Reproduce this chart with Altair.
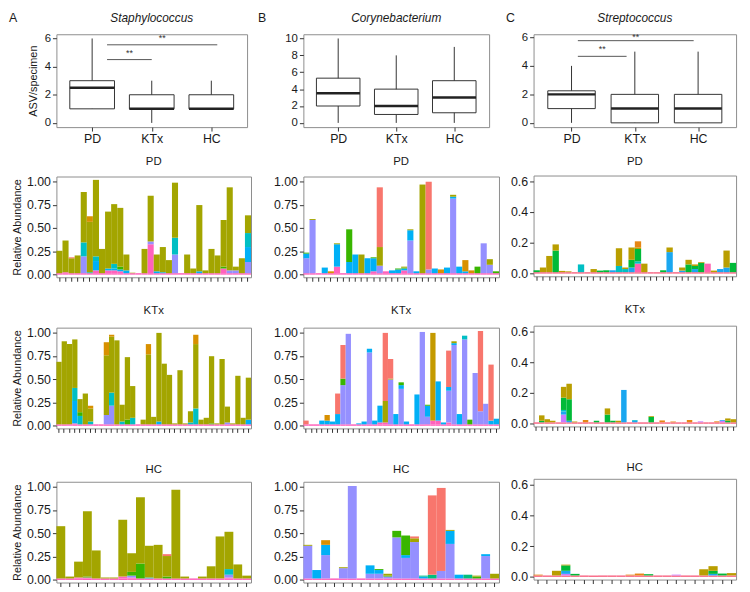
import altair as alt
import pandas as pd

FONT = "Liberation Sans"

# ---------------- colours of the ASVs (stack order: first = bottom) ----------------
ASV_KEYS = ["base", "cbase", "pnk", "cpk", "mag", "pur", "cpu", "blu", "cbl", "tea", "sea",
            "grn", "cgr", "oli", "col", "gol", "ora", "cor", "sal"]
ASV_COLORS = ["#FF62BC", "#F9708C", "#FF62BC", "#FF64B0", "#E76BF3", "#9590FF", "#C77CFF", "#00B0F6", "#1AA7F0",
              "#00BFC4", "#00BF7D", "#39B600", "#00BA38", "#A3A500", "#B99E00",
              "#C49A00", "#D89000", "#E68613", "#F8766D"]

GROUPS = ["PD", "KTx", "HC"]
GENERA = ["Staphylococcus", "Corynebacterium", "Streptococcus"]
LETTERS = ["A", "B", "C"]

# trace of rare ASVs present at the bottom of every specimen bar
AB_TRACE = 0.016
C_TRACE = 0.010

# ---------------- boxplot summaries (ASV/specimen) ----------------
A_q1 = [1, 1, 1];       A_med = [2.5, 1, 1];   A_q3 = [3, 2, 2];     A_lo = [1, 0, 1];  A_hi = [6, 3, 3]
B_q1 = [2, 1, 1.2];     B_med = [3.5, 2, 3];   B_q3 = [5.3, 4, 5];   B_lo = [0, 0, 0];  B_hi = [10, 8, 9]
C_q1 = [1, 0, 0];       C_med = [2, 1, 1];     C_q3 = [2.25, 2, 2];  C_lo = [0, 0, 0];  C_hi = [4, 5, 5]

# significance brackets: (x start, x end, y, label y)
A_sig = [(1.25, 2.0, 4.5, 4.95), (1.25, 3.1, 5.55, 6.0)]
B_sig = []
C_sig = [(1.1, 1.87, 4.67, 5.15), (1.1, 2.93, 5.77, 6.05)]

# ---------------- relative abundance per specimen (stacked segments) ----------------
A_PD = [
    [("oli", 0.24)], [("pnk", 0.01), ("oli", 0.34)], [("oli", 0.16), ("sal", 0.01)], [("oli", 0.19)],
    [("pur", 0.18), ("tea", 0.15), ("oli", 0.54)], [("tea", 0.01), ("oli", 0.54), ("ora", 0.06)],
    [("pnk", 0.03), ("blu", 0.10), ("tea", 0.05), ("oli", 0.82)], [("oli", 0.26)],
    [("pnk", 0.03), ("blu", 0.02), ("oli", 0.61)], [("pnk", 0.03), ("blu", 0.02), ("tea", 0.05), ("oli", 0.64)],
    [("pnk", 0.02), ("blu", 0.02), ("grn", 0.03), ("oli", 0.63)], [("blu", 0.03), ("oli", 0.17)],
    [("oli", 0.005)], [], [("oli", 0.26)], [("pnk", 0.31), ("pur", 0.03), ("oli", 0.49)],
    [("blu", 0.02), ("oli", 0.18)], [("blu", 0.01), ("oli", 0.27)], [("oli", 0.14)],
    [("pur", 0.20), ("tea", 0.18), ("oli", 0.59)], [], [("oli", 0.20)], [("oli", 0.05)],
    [("blu", 0.02), ("oli", 0.71)], [("oli", 0.03)], [("oli", 0.26)], [("oli", 0.19)],
    [("pnk", 0.05), ("grn", 0.02), ("oli", 0.50)], [("pur", 0.03), ("oli", 0.89)],
    [("pur", 0.03), ("oli", 0.04)], [("oli", 0.16)], [("pur", 0.12), ("blu", 0.16), ("tea", 0.15), ("oli", 0.19)],
]
A_KTx = [
    [("oli", 0.67)], [("oli", 0.89)], [("oli", 0.86)], [("pnk", 0.01), ("blu", 0.24), ("tea", 0.14), ("oli", 0.52)],
    [("tea", 0.09), ("grn", 0.04), ("oli", 0.14)], [("oli", 0.33)], [("tea", 0.03), ("oli", 0.14), ("ora", 0.03)],
    [], [], [("pur", 0.10), ("oli", 0.64), ("ora", 0.14)], [("pur", 0.20), ("tea", 0.14), ("oli", 0.60), ("ora", 0.02)],
    [("oli", 0.90)], [("tea", 0.03), ("oli", 0.18)], [("grn", 0.05), ("oli", 0.67)], [("tea", 0.07), ("oli", 0.34)],
    [], [("oli", 0.05)], [("oli", 0.75), ("ora", 0.11)], [("oli", 0.08)], [("blu", 0.03), ("oli", 0.95)],
    [("oli", 0.65)], [("oli", 0.53)], [("oli", 0.01)], [("oli", 0.58)], [("oli", 0.01)],
    [("tea", 0.02), ("oli", 0.12)], [("tea", 0.17), ("oli", 0.69), ("ora", 0.10)], [("oli", 0.05)],
    [("oli", 0.07)], [("grn", 0.01), ("oli", 0.72)], [("oli", 0.01)], [("oli", 0.70)],
    [("pur", 0.02), ("oli", 0.17)], [("oli", 0.01)], [("oli", 0.52)], [("oli", 0.07)], [("blu", 0.05), ("oli", 0.45)],
]
A_HC = [
    [("oli", 0.56)], [("oli", 0.02)], [("pnk", 0.01), ("oli", 0.17)], [("pnk", 0.01), ("grn", 0.01), ("oli", 0.70)],
    [("oli", 0.30)], [("oli", 0.01)], [("oli", 0.01)], [("pnk", 0.02), ("oli", 0.61)],
    [("pnk", 0.01), ("pur", 0.02), ("grn", 0.04), ("oli", 0.20)], [("grn", 0.16), ("oli", 0.71)],
    [("tea", 0.01), ("oli", 0.34)], [("oli", 0.36)], [("grn", 0.02), ("oli", 0.22), ("sal", 0.02)],
    [("oli", 0.95)], [("oli", 0.02)], [], [("oli", 0.02)], [("oli", 0.13)], [("oli", 0.45)],
    [("pnk", 0.01), ("pur", 0.03), ("tea", 0.06), ("oli", 0.40)], [("oli", 0.15)], [("oli", 0.03)],
]
B_PD = [
    [("pur", 0.16), ("blu", 0.05), ("grn", 0.01)], [("pur", 0.57), ("oli", 0.01)], [], [("blu", 0.06)],
    [("ora", 0.02)], [("pnk", 0.07), ("blu", 0.24), ("oli", 0.01)], [], [("blu", 0.12), ("grn", 0.35)],
    [("blu", 0.20)], [("oli", 0.20)], [("blu", 0.16)], [("pnk", 0.02), ("blu", 0.14), ("grn", 0.01)],
    [("pur", 0.08), ("oli", 0.20), ("sal", 0.64)], [("pnk", 0.02)], [("blu", 0.03)], [("blu", 0.04), ("grn", 0.01)],
    [("pnk", 0.03), ("blu", 0.02), ("grn", 0.01), ("oli", 0.01)], [("pur", 0.35), ("blu", 0.11), ("oli", 0.01)],
    [("blu", 0.02)], [("oli", 0.95)], [("pur", 0.04), ("sal", 0.94)], [("blu", 0.05)], [("ora", 0.04)],
    [("blu", 0.06)], [("pur", 0.80), ("blu", 0.02), ("oli", 0.02)], [("blu", 0.07)], [("blu", 0.02), ("ora", 0.12)],
    [("ora", 0.03)], [("grn", 0.07)], [("pur", 0.32)], [("pur", 0.09), ("oli", 0.06)], [("grn", 0.02)],
]
B_KTx = [
    [("sal", 0.04)], [], [], [("blu", 0.04)], [("blu", 0.04), ("ora", 0.06)], [("blu", 0.03)],
    [("blu", 0.11), ("sal", 0.22)], [("pur", 0.42), ("grn", 0.07), ("sal", 0.36)], [("pur", 0.97)], [],
    [("blu", 0.01)], [("blu", 0.03)], [("pur", 0.77), ("blu", 0.04)], [("blu", 0.04)], [("pnk", 0.02), ("blu", 0.18)],
    [("pnk", 0.02), ("oli", 0.23), ("sal", 0.73)], [("pur", 0.48), ("oli", 0.01), ("sal", 0.21)], [("blu", 0.11)],
    [("pur", 0.38), ("blu", 0.04), ("grn", 0.03)], [("blu", 0.03)], [], [("blu", 0.32)], [("pur", 0.99)],
    [("pur", 0.08), ("blu", 0.12), ("grn", 0.01)], [("pnk", 0.04), ("gol", 0.94)], [("pnk", 0.04), ("blu", 0.42)],
    [("blu", 0.02)], [("pnk", 0.02), ("pur", 0.34), ("blu", 0.04), ("sal", 0.39)],
    [("pur", 0.85), ("blu", 0.02), ("oli", 0.02)], [("blu", 0.11)], [("pur", 0.91), ("tea", 0.04)],
    [("grn", 0.05)], [("pur", 0.55)], [("pur", 0.14), ("sal", 0.86)], [("pur", 0.22)],
    [("blu", 0.04), ("sal", 0.60)], [("blu", 0.06)],
]
B_HC = [
    [("pur", 0.35), ("oli", 0.01)], [("blu", 0.09)], [("pur", 0.25), ("blu", 0.11), ("ora", 0.05)], [],
    [("pur", 0.11), ("oli", 0.01)], [("pur", 0.99)], [], [("pur", 0.05), ("blu", 0.09)],
    [("pur", 0.05), ("blu", 0.04), ("grn", 0.01)], [("pur", 0.02), ("grn", 0.01), ("oli", 0.02)],
    [("pur", 0.44), ("grn", 0.07)], [("pur", 0.22), ("blu", 0.03), ("grn", 0.21)],
    [("pur", 0.39), ("oli", 0.04), ("sal", 0.02)], [("blu", 0.02), ("sea", 0.01)], [("sea", 0.04), ("sal", 0.85)],
    [("pur", 0.08), ("sal", 0.89)], [("pur", 0.37), ("blu", 0.14), ("oli", 0.01)], [("blu", 0.04)],
    [("sea", 0.04)], [("grn", 0.02), ("oli", 0.01)], [("pur", 0.24), ("blu", 0.02)], [("oli", 0.05)],
]
C_PD = [
    [("cgr", 0.012)], [("col", 0.03)], [("col", 0.105)], [("cgr", 0.14), ("col", 0.04)], [("col", 0.008)],
    [("col", 0.005)], [], [("tea", 0.05)], [], [("col", 0.02)], [("cgr", 0.01)], [("cgr", 0.012)],
    [("cbl", 0.012)], [("tea", 0.04), ("col", 0.115)], [("tea", 0.02), ("col", 0.01)],
    [("cbl", 0.03), ("cgr", 0.05), ("col", 0.08)],
    [("cpk", 0.055), ("tea", 0.015), ("cgr", 0.08), ("col", 0.01), ("cor", 0.04)], [("col", 0.055)],
    [], [], [("cgr", 0.012)], [("cbl", 0.13), ("col", 0.03)], [], [("cbl", 0.01), ("col", 0.02)],
    [("cgr", 0.05), ("col", 0.03)], [("cbl", 0.02), ("cgr", 0.02), ("col", 0.01)], [("cgr", 0.06), ("col", 0.005)],
    [("cpk", 0.055)], [("col", 0.01)], [("cbl", 0.02)], [("cbl", 0.03), ("col", 0.11)], [("cgr", 0.06)],
]
C_KTx = [
    [], [("cgr", 0.01), ("col", 0.035)], [("col", 0.02)], [("col", 0.01)], [],
    [("cpu", 0.05), ("cbl", 0.02), ("tea", 0.01), ("cgr", 0.08), ("col", 0.07)],
    [("cbl", 0.01), ("cgr", 0.14), ("col", 0.10)], [("col", 0.005)], [], [("cor", 0.015)], [],
    [("cgr", 0.01)], [], [("cgr", 0.05), ("col", 0.04)], [("cgr", 0.01)], [("col", 0.01)], [("cbl", 0.21)],
    [], [("cbl", 0.01), ("tea", 0.005)], [], [], [("cgr", 0.035), ("col", 0.005)], [], [("cor", 0.012)], [],
    [("cor", 0.005)], [], [], [("cor", 0.015)], [], [("cpu", 0.006)], [], [], [("cor", 0.006)],
    [("cpu", 0.01), ("cbl", 0.005)], [("cgr", 0.01), ("col", 0.015)], [("col", 0.02)],
]
C_HC = [
    [("cor", 0.005)], [], [("col", 0.03)], [("cpu", 0.01), ("cbl", 0.02), ("cgr", 0.035), ("col", 0.005)],
    [("cgr", 0.01)], [], [], [], [], [], [("cor", 0.005)], [("cor", 0.012)], [("cgr", 0.008)], [], [],
    [("cpu", 0.005)], [], [], [("col", 0.04)], [("cbl", 0.01), ("cgr", 0.02), ("col", 0.03)],
    [("cgr", 0.012)], [("col", 0.015)],
]

COLOR_SCALE = alt.Scale(domain=ASV_KEYS, range=ASV_COLORS)
LABEL_COLOR = "#1a1a1a"


def bar_frame(bars, base_key, base_val):
    rows = []
    for i, segs in enumerate(bars):
        for key, v in [(base_key, base_val)] + list(segs):
            rows.append({"sample": i, "asv": key, "value": v, "order": ASV_KEYS.index(key)})
    return pd.DataFrame(rows, columns=["sample", "asv", "value", "order"])


def bar_panel(bars, title, ydom, yvals, fmt, ytitle, width, height, toff, extra, base_key, base_val):
    n = len(bars)
    df = bar_frame(bars, base_key, base_val)
    yscale = alt.Scale(domain=ydom, nice=False, zero=False)
    yaxis = alt.Axis(values=yvals, format=fmt, title=ytitle, grid=False, domain=False, labelOverlap=False,
                     labelFontSize=12.5, tickSize=4, labelPadding=2, titlePadding=4, labelFlush=False)
    xaxis = alt.Axis(labels=False, ticks=True, tickSize=4, domain=False, grid=False,
                     title=" ", titleFontSize=1, titlePadding=extra)
    return alt.Chart(df).mark_bar().encode(
        x=alt.X("sample:O", scale=alt.Scale(domain=list(range(n)), paddingInner=0, paddingOuter=0),
                axis=xaxis, title=" "),
        y=alt.Y("value:Q", stack="zero", scale=yscale, axis=yaxis, title=ytitle),
        color=alt.Color("asv:N", scale=COLOR_SCALE, legend=None),
        order=alt.Order("order:Q", sort="ascending"),
    ).properties(
        width=width, height=height,
        title=alt.TitleParams(title, fontSize=11.5, fontWeight="normal", font=FONT, offset=toff,
                              color=LABEL_COLOR),
    )


def box_panel(q1, med, q3, lo, hi, sig, ydom, yvals, genus, letter, letter_dx, ytitle, width, height):
    df = pd.DataFrame({"cat": GROUPS, "pos": [1, 2, 3], "q1": q1, "med": med, "q3": q3, "lo": lo, "hi": hi})
    df["x1"] = df["pos"] - 0.375
    df["x2"] = df["pos"] + 0.375
    label_expr = " : ".join(f"datum.value == {i + 1} ? '{g}'" for i, g in enumerate(GROUPS[:-1])) + f" : '{GROUPS[-1]}'"
    xsc = alt.Scale(domain=[0.4, 3.6], nice=False, zero=False)
    ysc = alt.Scale(domain=ydom, nice=False, zero=False)
    xax = alt.Axis(values=[1, 2, 3], labelExpr=label_expr, title=None, grid=False, domain=False,
                   tickSize=4, labelFontSize=12.5, labelPadding=2)
    yax = alt.Axis(values=yvals, title=ytitle, grid=False, domain=False, tickSize=4, labelOverlap=False,
                   labelFontSize=11.5, labelPadding=2, titlePadding=6)
    base = alt.Chart(df)
    whisk = base.mark_rule(color="#333333", strokeWidth=1).encode(
        x=alt.X("pos:Q", scale=xsc, axis=xax, title=None),
        y=alt.Y("lo:Q", scale=ysc, axis=yax, title=ytitle), y2="hi:Q")
    box = base.mark_bar(fill="white", stroke="#333333", strokeWidth=1).encode(
        x=alt.X("x1:Q", scale=xsc, axis=xax, title=None), x2="x2:Q",
        y=alt.Y("q1:Q", scale=ysc, axis=yax, title=ytitle), y2="q3:Q")
    medr = base.mark_rule(color="#222222", strokeWidth=2.5).encode(
        x=alt.X("x1:Q", scale=xsc, axis=xax, title=None), x2="x2:Q",
        y=alt.Y("med:Q", scale=ysc, axis=yax, title=ytitle))
    layers = [whisk, box, medr]
    if sig:
        sdf = pd.DataFrame(sig, columns=["xs", "xe", "ys", "yt"])
        sdf["xm"] = (sdf["xs"] + sdf["xe"]) / 2
        sdf["lab"] = "**"
        layers.append(alt.Chart(sdf).mark_rule(color="#555555", strokeWidth=1).encode(
            x=alt.X("xs:Q", scale=xsc, axis=xax, title=None), x2="xe:Q",
            y=alt.Y("ys:Q", scale=ysc, axis=yax, title=ytitle)))
        layers.append(alt.Chart(sdf).mark_text(fontSize=9, font=FONT, color="#333333", baseline="middle").encode(
            x=alt.X("xm:Q", scale=xsc, axis=xax, title=None),
            y=alt.Y("yt:Q", scale=ysc, axis=yax, title=ytitle), text="lab:N"))
    ldf = pd.DataFrame({"t": [letter]})
    layers.append(alt.Chart(ldf).mark_text(align="left", baseline="middle", fontSize=12.5, font=FONT,
                                           color=LABEL_COLOR).encode(
        text="t:N", x=alt.value(letter_dx), y=alt.value(-16)))
    return alt.layer(*layers).properties(
        width=width, height=height,
        title=alt.TitleParams(genus, fontStyle="italic", fontWeight="normal", fontSize=12, font=FONT,
                              offset=-13, color=LABEL_COLOR),
    )


AB_DOM = [-0.028, 1.052]
AB_VALS = [0, 0.25, 0.5, 0.75, 1.0]
C_DOM = [-0.017, 0.637]
C_VALS = [0, 0.2, 0.4, 0.6]
BH = 102
BOXH = 94
SP = 9
OFFS = [8, 10, 5]        # title offsets per row (PD, KTx, HC)
EXTRA = [12, 20, 0]      # blank space under the tick marks per row


def column(box, bars3, ytitle, bar_w, ydom, yvals, fmt, base_key, base_val):
    panels = [box]
    for i, (g, data) in enumerate(zip(GROUPS, bars3)):
        panels.append(bar_panel(data, g, ydom, yvals, fmt, ytitle, bar_w, BH, OFFS[i], EXTRA[i],
                                base_key, base_val))
    return alt.vconcat(*panels, spacing=SP)


colA = column(
    box_panel(A_q1, A_med, A_q3, A_lo, A_hi, A_sig, [-0.3, 6.3], [0, 2, 4, 6], GENERA[0], LETTERS[0], -48,
              "ASV/specimen", 193, BOXH),
    [A_PD, A_KTx, A_HC], "Relative Abundance", 197, AB_DOM, AB_VALS, ".2f", "base", AB_TRACE)
colB = column(
    box_panel(B_q1, B_med, B_q3, B_lo, B_hi, B_sig, [-0.5, 10.5], [0, 2, 4, 6, 8, 10], GENERA[1], LETTERS[1], -46,
              None, 188, BOXH),
    [B_PD, B_KTx, B_HC], None, 198, AB_DOM, AB_VALS, ".2f", "base", AB_TRACE)
colC = column(
    box_panel(C_q1, C_med, C_q3, C_lo, C_hi, C_sig, [-0.3, 6.22], [0, 2, 4, 6], GENERA[2], LETTERS[2], -28,
              None, 205, BOXH),
    [C_PD, C_KTx, C_HC], None, 205, C_DOM, C_VALS, ".1f", "cbase", C_TRACE)

chart = alt.hconcat(colA, colB, colC, spacing=5).properties(
    padding={"left": 0, "top": 0, "right": 5, "bottom": 0},
    background="white",
).configure_view(
    stroke="#8c8c8c", strokeWidth=1,
).configure_axis(
    labelFont=FONT, titleFont=FONT, labelColor=LABEL_COLOR, titleColor=LABEL_COLOR,
    tickColor="#333333", titleFontWeight="normal", titleFontSize=11, labelOverlap=False,
).configure_title(font=FONT)

chart.save("out.html", embed_options={"renderer": "svg", "actions": False})
